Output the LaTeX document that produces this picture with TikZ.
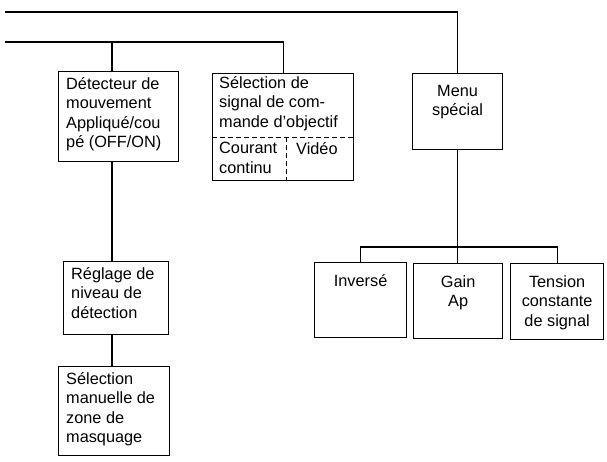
\documentclass[tikz,border=0pt]{standalone}
\usepackage{fontspec}
\setmainfont{Liberation Sans}
\usetikzlibrary{calc,positioning}
\tikzset{
  box/.style={draw=black, line width=1.2pt, anchor=north west, inner sep=0pt},
  txt/.style={align=left, inner sep=0pt, anchor=north west,
    font=\fontsize{16.3}{19.5}\selectfont},
  ctxt/.style={txt, align=center, anchor=north},
  wire/.style={draw=black, line width=1.2pt},
  dwire/.style={draw=black, line width=1pt, dash pattern=on 5pt off 3pt}
}
\begin{document}
\begin{tikzpicture}[x=1pt, y=-1pt]
  \useasboundingbox (0,0) rectangle (607,461);

  % left column
  \node[box, minimum width=120pt, minimum height=90pt] (det) at (58,71) {};
  \node[txt] (det-t) at ($(det.north west)+(8,6)$) {Détecteur de\\mouvement\\Appliqué/cou\\pé (OFF/ON)};
  \node[box, minimum width=105pt, minimum height=73pt] (regl) at (63,261) {};
  \node[txt] (regl-t) at ($(regl.north west)+(8,6)$) {Réglage de\\niveau de\\détection};
  \node[box, minimum width=111pt, minimum height=89pt] (masq) at (58,366) {};
  \node[txt] (masq-t) at ($(masq.north west)+(8,6)$) {Sélection\\manuelle de\\zone de\\masquage};

  % lens control signal
  \node[box, minimum width=141pt, minimum height=107pt] (sel) at (212,73) {};
  \node[txt] (sel-t) at ($(sel.north west)+(7,3)$) {Sélection de\\signal de com-\\mande d'objectif};
  \coordinate (dl) at ($(sel.north west)+(0,64)$);
  \coordinate (dr) at ($(sel.north east)+(0,64)$);
  \coordinate (dv) at ($(sel.north west)+(74,64)$);
  \draw[dwire] (dl) -- (dr);
  \draw[dwire] (dv) -- (dv |- sel.south);
  \node[txt] (cc-t) at ($(dl)+(7,5)$) {Courant\\continu};
  \node[txt] (vid-t) at ($(dv)+(10,5)$) {Vidéo};

  % special menu
  \node[box, minimum width=90pt, minimum height=76pt] (menu) at (412,73) {};
  \node[ctxt] (menu-t) at ($(menu.north)+(0,12)$) {Menu\\spécial};
  \node[box, minimum width=92pt, minimum height=75pt] (inv) at (314,262) {};
  \node[ctxt] (inv-t) at ($(inv.north)+(0,12)$) {Inversé};
  \node[box, minimum width=89pt, minimum height=75pt] (gain) at (413,263) {};
  \node[ctxt] (gain-t) at ($(gain.north)+(0,12)$) {Gain\\Ap};
  \node[box, minimum width=93pt, minimum height=76pt] (tens) at (510,263) {};
  \node[ctxt] (tens-t) at ($(tens.north)+(0,12)$) {Tension\\constante\\de signal};

  % connectors
  \coordinate (in1) at (5,12);
  \coordinate (in2) at (5,42);
  \coordinate (lcol) at (112,0);
  \coordinate (bus) at (457,247);
  \draw[wire] (in1) -| (menu.north);
  \draw[wire] (in2) -| (sel.north);
  \draw[wire] (det.north -| lcol) -- (in2 -| lcol);
  \draw[wire] (det.south -| lcol) -- (regl.north -| lcol);
  \draw[wire] (regl.south -| lcol) -- (masq.north -| lcol);
  \draw[wire] (menu.south) -- (gain.north -| menu.south);
  \draw[wire] (inv.north) |- (bus) -| (tens.north);
\end{tikzpicture}
\end{document}
